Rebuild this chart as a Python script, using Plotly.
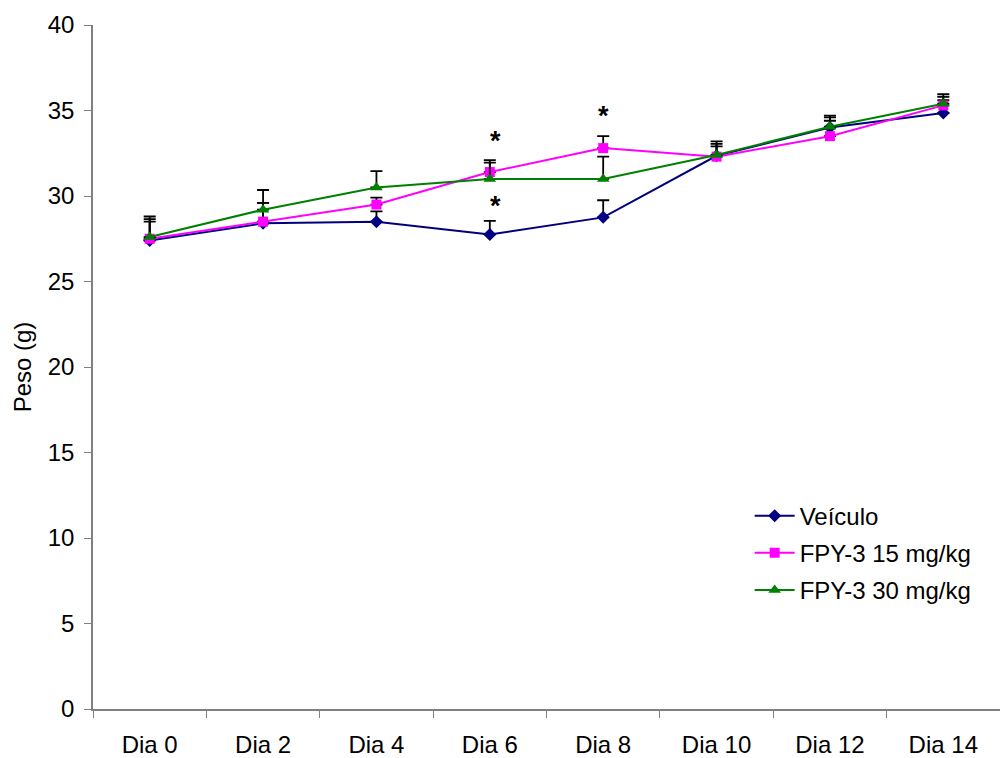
import plotly.graph_objects as go

# Days of treatment
dias = ["Dia 0", "Dia 2", "Dia 4", "Dia 6", "Dia 8", "Dia 10", "Dia 12", "Dia 14"]

# Mean body weight (g) per group
veiculo = [27.4, 28.4, 28.5, 27.75, 28.75, 32.35, 34.0, 34.85]
fpy15 = [27.5, 28.5, 29.5, 31.4, 32.8, 32.3, 33.5, 35.3]
fpy30 = [27.6, 29.2, 30.5, 31.0, 31.0, 32.4, 34.05, 35.4]

# Upper error (SEM)
veiculo_err = [1.4, 1.2, 0.6, 0.8, 1.0, 0.85, 0.7, 0.75]
fpy15_err = [1.15, 1.1, 0.4, 0.55, 0.7, 0.75, 1.1, 0.5]
fpy30_err = [0.9, 1.15, 0.95, 1.1, 1.3, 0.5, 0.35, 0.55]

# Significance markers: (day, y position, horizontal nudge in px)
sig_marks = [("Dia 6", 33.4, 6), ("Dia 6", 29.6, 6), ("Dia 8", 34.85, 0)]

FONT = "Liberation Sans, Arial, sans-serif"

fig = go.Figure()

series = [
    ("Veículo", veiculo, veiculo_err, "#000080", "diamond", 10),
    ("FPY-3 15 mg/kg", fpy15, fpy15_err, "#FF00FF", "square", 10),
    ("FPY-3 30 mg/kg", fpy30, fpy30_err, "#008000", "triangle-up", 11),
]

for i, (name, vals, err, color, symbol, size) in enumerate(series):
    fig.add_trace(go.Scatter(
        x=dias, y=vals, name=name, mode="lines+markers",
        legendgroup=f"g{i}",
        line=dict(color=color, width=2),
        marker=dict(color=color, symbol=symbol, size=size),
        error_y=dict(type="data", array=err, arrayminus=[0] * len(err),
                     symmetric=False, color="black", thickness=1.8, width=6),
    ))

for day, yv, dx in sig_marks:
    fig.add_annotation(x=day, y=yv, text="<b>*</b>", showarrow=False,
                       xshift=dx, yshift=-3,
                       font=dict(family=FONT, size=27, color="black"))

fig.update_layout(
    width=1000, height=758,
    margin=dict(l=93, r=0, t=25, b=49),
    paper_bgcolor="white", plot_bgcolor="white",
    font=dict(family=FONT, size=24, color="black"),
    showlegend=True,
    legend=dict(x=0.724, y=0.315, xanchor="left", yanchor="top",
                bgcolor="rgba(0,0,0,0)", font=dict(size=24),
                itemwidth=40, traceorder="grouped", tracegroupgap=3),
    xaxis=dict(type="category", range=[-0.5, 7.5], showgrid=False,
               showline=True, linecolor="#808080", linewidth=1.5,
               ticks="outside", tickson="boundaries", ticklen=7,
               tickcolor="#808080", tickfont=dict(size=24),
               ticklabelstandoff=13),
    yaxis=dict(range=[0, 40], dtick=5, showgrid=False, zeroline=False,
               showline=True, linecolor="#808080", linewidth=1.5,
               ticks="outside", ticklen=7, tickcolor="#808080",
               tickfont=dict(size=24), ticklabelstandoff=5,
               title=dict(text="Peso (g)", font=dict(size=24), standoff=9)),
)

fig.write_html("out.html")
